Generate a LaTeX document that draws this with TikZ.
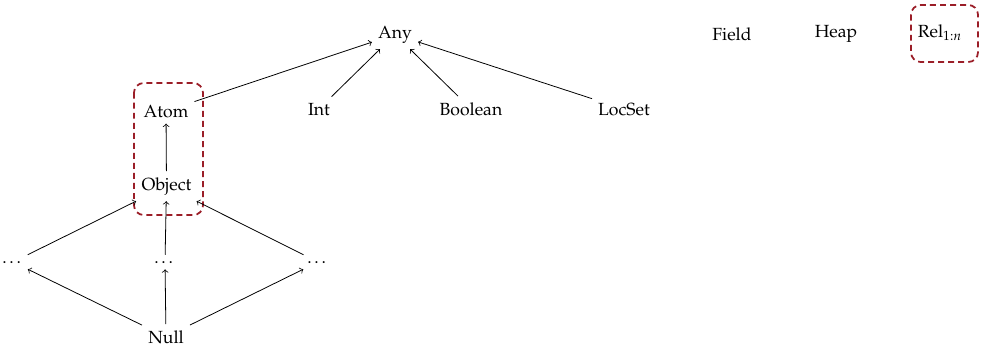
\documentclass[tikz,border=0pt]{standalone}
\usepackage[T1]{fontenc}
\usepackage{mathpazo}
\definecolor{boxred}{RGB}{155,30,40}
\tikzset{
  lbl/.style={anchor=base, inner sep=3.33pt},
  grp/.style={draw=boxred, line width=1pt, dash pattern=on 3.4pt off 2.3pt, rounded corners=5.5pt},
  edge/.style={->, line width=0.45pt}
}
\begin{document}
\begin{tikzpicture}[x=0.5682pt, y=-0.5682pt]
\useasboundingbox (0,0) rectangle (982,351);
% group boxes
\draw[grp] (134,83) rectangle (203,215);
\draw[grp] (911,5) rectangle (978,62);
% nodes
\node[lbl] (any) at (395,38) {Any};
\node[lbl] (atom) at (166,117) {Atom};
\node[lbl] (int) at (319,115) {Int};
\node[lbl] (bool) at (471,115) {Boolean};
\node[lbl] (locset) at (624,115) {LocSet};
\node[lbl] (field) at (732,40) {Field};
\node[lbl] (heap) at (836,37) {Heap};
\node[lbl] (rel) at (940,37) {Rel$_{1:n}$};
\node[lbl] (object) at (166.5,190) {Object};
\node[lbl] (d1) at (13,263) {\dots};
\node[lbl] (d2) at (165,263) {\dots};
\node[lbl] (d3) at (318,263) {\dots};
\node[lbl] (null) at (166,343) {Null};
% edges
\draw[edge] (atom) -- (any);
\draw[edge] (int) -- (any);
\draw[edge] (bool) -- (any);
\draw[edge] (locset) -- (any);
\draw[edge] (object) -- (atom);
\draw[edge] (d1) -- (object);
\draw[edge] (d2) -- (object);
\draw[edge] (d3) -- (object);
\draw[edge] (null) -- (d1);
\draw[edge] (null) -- (d2);
\draw[edge] (null) -- (d3);
\end{tikzpicture}
\end{document}
